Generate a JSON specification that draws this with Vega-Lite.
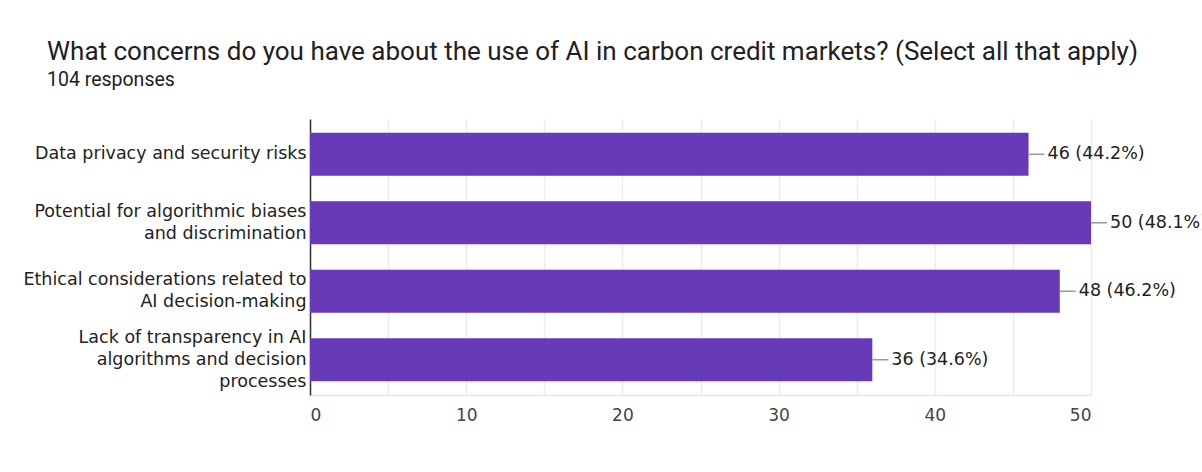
{
  "$schema": "https://vega.github.io/schema/vega-lite/v6.json",
  "autosize": "none",
  "width": 781,
  "height": 276,
  "padding": {"left": 310, "top": 119, "right": 111, "bottom": 77},
  "background": "white",
  "title": {
    "text": "What concerns do you have about the use of AI in carbon credit markets? (Select all that apply)",
    "subtitle": "104 responses",
    "anchor": "start",
    "frame": "group",
    "dx": -263,
    "offset": 30,
    "font": "Roboto",
    "fontSize": 26,
    "fontWeight": "normal",
    "color": "#202124",
    "subtitleFont": "Roboto",
    "subtitleFontSize": 19.5,
    "subtitleColor": "#202124",
    "subtitlePadding": 6
  },
  "config": {"view": {"stroke": null}},
  "data": {
    "values": [
      {"concern": "Data privacy and security risks", "count": 46, "label": "46 (44.2%)"},
      {"concern": "Potential for algorithmic biases|and discrimination", "count": 50, "label": "50 (48.1%)"},
      {"concern": "Ethical considerations related to|AI decision-making", "count": 48, "label": "48 (46.2%)"},
      {"concern": "Lack of transparency in AI|algorithms and decision|processes", "count": 36, "label": "36 (34.6%)"}
    ]
  },
  "encoding": {
    "y": {
      "field": "concern",
      "type": "nominal",
      "sort": null,
      "scale": {"paddingInner": 0.37, "paddingOuter": 0.2},
      "axis": {
        "title": null,
        "labelExpr": "split(datum.label, '|')",
        "labelFont": "DejaVu Sans",
        "labelFontSize": 17.5,
        "labelColor": "#222222",
        "labelLineHeight": 22,
        "labelPadding": 4,
        "labelLimit": 320,
        "labelOffset": {
          "condition": [
            {"test": "length(split(datum.value, '|')) == 3", "value": -22},
            {"test": "length(split(datum.value, '|')) == 2", "value": -11}
          ],
          "value": 0
        },
        "ticks": false,
        "domainColor": "#333333",
        "domainWidth": 1.5
      }
    },
    "x": {
      "field": "count",
      "type": "quantitative",
      "scale": {"domain": [0, 50], "nice": false},
      "axis": {
        "title": null,
        "values": [0, 5, 10, 15, 20, 25, 30, 35, 40, 45, 50],
        "labelExpr": "datum.value % 10 == 0 ? datum.label : ''",
        "labelFont": "DejaVu Sans",
        "labelFontSize": 17,
        "labelColor": "#444444",
        "labelPadding": 12,
        "ticks": false,
        "domain": true,
        "domainColor": "#e6e6e6",
        "domainWidth": 1.5,
        "gridColor": "#ececec",
        "gridWidth": 1.5
      }
    }
  },
  "layer": [
    {"mark": {"type": "bar", "color": "#673ab7"}},
    {
      "mark": {"type": "point", "shape": "M0,0H1", "size": 1024, "stroke": "#999999", "strokeWidth": 1.5, "filled": false, "opacity": 1},
      "encoding": {}
    },
    {
      "mark": {"type": "text", "align": "left", "dx": 19, "font": "DejaVu Sans", "fontSize": 17.5, "color": "#222222"},
      "encoding": {"text": {"field": "label"}}
    }
  ]
}
